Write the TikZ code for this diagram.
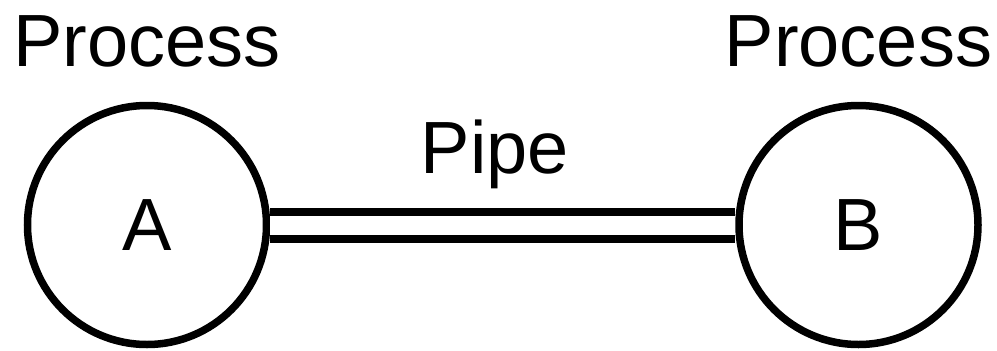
\documentclass[tikz,border=0pt]{standalone}
\usepackage{fontspec}
\setmainfont{Liberation Sans}
\usetikzlibrary{positioning}

\begin{document}
\begin{tikzpicture}[x=0.5pt, y=0.5pt,
  proc/.style={draw, circle, line width=3.75pt, minimum size=119.5pt, inner sep=0pt, font=\fontsize{37}{44}\selectfont},
  lbl/.style={inner sep=0pt, font=\fontsize{37}{44}\selectfont},
  pipe/.style={double, double distance=9.5pt, line width=4pt}]
\useasboundingbox (0,0) rectangle (997,350);
\node[proc] (a) at (147,125) {A};
\node[proc, right=232.5pt of a] (b) {B};
\node[lbl, above=17pt of a] (pa) {Process};
\node[lbl, above=17pt of b] (pb) {Process};
\node[lbl, anchor=base] (pl) at (495,177) {Pipe};
\draw[pipe] (a) -- (b);
\end{tikzpicture}
\end{document}
